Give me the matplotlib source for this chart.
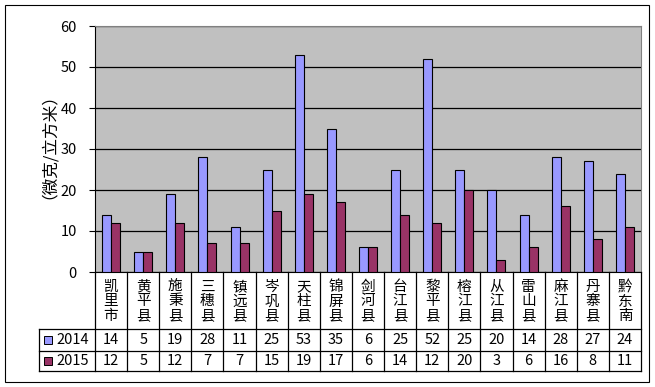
import matplotlib
matplotlib.use("Agg")
import matplotlib.pyplot as plt
from matplotlib.patches import Rectangle
import numpy as np

plt.rcParams['font.family'] = ['Noto Sans CJK SC', 'DejaVu Sans']

counties = ['凯里市', '黄平县', '施秉县', '三穗县', '镇远县', '岑巩县', '天柱县', '锦屏县',
            '剑河县', '台江县', '黎平县', '榕江县', '从江县', '雷山县', '麻江县', '丹寨县', '黔东南']
v2014 = [14, 5, 19, 28, 11, 25, 53, 35, 6, 25, 52, 25, 20, 14, 28, 27, 24]
v2015 = [12, 5, 12, 7, 7, 15, 19, 17, 6, 14, 12, 20, 3, 6, 16, 8, 11]
series = ['2014', '2015']
colors = ['#9999ff', '#993366']
ylabel = '（微克/立方米）'

W, H = 655, 387
n = len(counties)
fig = plt.figure(figsize=(W / 100, H / 100), dpi=100)

# plot area in pixels
px0, px1, py0, py1 = 95, 641, 26, 272
ax = fig.add_axes([px0 / W, 1 - py1 / H, (px1 - px0) / W, (py1 - py0) / H])
ax.set_facecolor('#c0c0c0')
x = np.arange(n)
w = 0.28
ax.bar(x - w / 2, v2014, w, color=colors[0], edgecolor='black', linewidth=0.8, zorder=3)
ax.bar(x + w / 2, v2015, w, color=colors[1], edgecolor='black', linewidth=0.8, zorder=3)
ax.set_xlim(-0.5, n - 0.5)
ax.set_ylim(0, 60)
ax.set_yticks(range(0, 61, 10))
ax.set_xticks([])
ax.yaxis.grid(True, color='black', linewidth=0.9)
ax.set_axisbelow(True)
for s in ['top', 'right']:
    ax.spines[s].set_color('#808080')
for s in ['left', 'bottom']:
    ax.spines[s].set_color('black')
ax.tick_params(axis='y', direction='out', length=4, pad=9, labelsize=10.5)
fig.text(40 / W, 1 - 138 / H, ylabel, rotation=90, ha='center', va='center', fontsize=12)

# data table below, drawn in pixel coordinates
tb = fig.add_axes([0, 0, 1, 1])
tb.set_xlim(0, W)
tb.set_ylim(H, 0)
tb.axis('off')
cw = (px1 - px0) / n
r0, r1, r2, r3 = py1, 329, 351, 371
lx = 39
kw = dict(color='black', linewidth=0.9)
for yy in [r1, r2, r3]:
    tb.plot([lx, px1], [yy, yy], **kw)
tb.plot([lx, lx], [r1, r3], **kw)
for k in range(n + 1):
    tb.plot([px0 + k * cw] * 2, [r0, r3], **kw)
for i, name in enumerate(counties):
    cx = px0 + (i + 0.5) * cw
    tb.text(cx, (r0 + r1) / 2 + 1, '\n'.join(name), ha='center', va='center',
            fontsize=10.5, linespacing=1.05)
    tb.text(cx, (r1 + r2) / 2, str(v2014[i]), ha='center', va='center', fontsize=10.5)
    tb.text(cx, (r2 + r3) / 2, str(v2015[i]), ha='center', va='center', fontsize=10.5)
for j, (lab, c) in enumerate(zip(series, colors)):
    yc = (r1 + r2) / 2 if j == 0 else (r2 + r3) / 2
    tb.add_patch(Rectangle((44, yc - 4), 8, 8, facecolor=c, edgecolor='black', linewidth=0.7))
    tb.text(56, yc, lab, ha='left', va='center', fontsize=10.5)

# outer chart border
fig.patches.append(Rectangle((5 / W, 1 - 382 / H), 644 / W, 377 / H, transform=fig.transFigure,
                             fill=False, edgecolor='black', linewidth=0.8))

fig.savefig('out.png', dpi=100)
